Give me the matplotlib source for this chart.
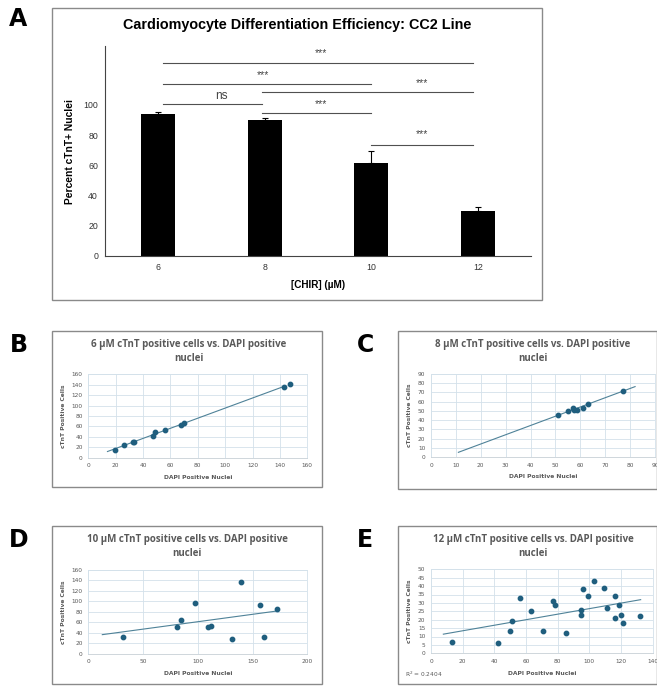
import numpy as np
import matplotlib
matplotlib.use("Agg")
import matplotlib.pyplot as plt
from matplotlib.patches import Rectangle

# ---- data: panel A (bar chart) ----
chir = ["6", "8", "10", "12"]
pct_ctnt = [94, 90, 61.5, 29.8]
pct_err = [1.0, 1.2, 8.3, 2.8]

# significance brackets: (start, end, line height, label, text x, text y)
sig_start = [0.04, 0.04, 0.97, 0.04, 0.97, 2.0]
sig_end = [2.96, 2.0, 2.96, 0.97, 2.0, 2.96]
sig_y = [128, 114, 108.4, 100.4, 94.7, 73.7]
sig_lab = ["***", "***", "***", "ns", "***", "***"]
sig_tx = [1.53, 0.98, 2.48, 0.59, 1.53, 2.48]
sig_ty = [134, 119.5, 114.2, 106.2, 100.7, 80.4]

# ---- data: panels B-E (scatter, DAPI vs cTnT) ----
dapi_6 = [19.5, 26, 32.5, 33.5, 47, 49, 56, 68, 70, 143, 147]
ctnt_6 = [15.5, 25, 30.5, 30.5, 41.5, 48.5, 52.5, 63, 66.5, 136, 141.5]

dapi_8 = [51, 55, 57, 57.5, 58.5, 61, 63, 77]
ctnt_8 = [46, 50, 53, 51, 51, 53, 58, 72]

dapi_10 = [32, 81, 85, 97, 109, 112, 131, 139, 157, 160, 172]
ctnt_10 = [31, 51, 64, 96, 51, 53, 29, 137, 93, 32, 85]

dapi_12 = [13, 42, 50, 51, 56, 63, 71, 77, 78, 85, 95, 95, 96, 99, 103,
           109, 111, 116, 116, 119, 120, 121, 132]
ctnt_12 = [7, 6, 13, 19, 33, 25, 13, 31, 29, 12, 26, 23, 38, 34, 43,
           39, 27, 34, 21, 29, 23, 18, 22]

W, H = 657, 686
fig = plt.figure(figsize=(W / 100, H / 100), dpi=100)


def px_axes(l, t, r, b):
    return fig.add_axes([l / W, 1 - b / H, (r - l) / W, (b - t) / H])


def box(l, t, r, b):
    fig.patches.append(Rectangle((l / W, 1 - b / H), (r - l) / W, (b - t) / H,
                                 transform=fig.transFigure, fill=False,
                                 edgecolor="#8a8a8a", linewidth=1.0))


def panel_letter(x, y, s):
    fig.text(x / W, 1 - y / H, s, fontsize=17, fontweight="bold",
             family="DejaVu Sans", ha="center", va="center")


# ---------------- panel A ----------------
box(52, 8, 542, 300)
panel_letter(18, 19, "A")
ax = px_axes(105, 46, 531, 256)
xs = np.arange(len(chir))
ax.bar(xs, pct_ctnt, width=0.32, color="black")
ax.errorbar(xs, pct_ctnt, yerr=[np.zeros(len(pct_err)), pct_err], fmt="none",
            ecolor="black", elinewidth=0.8, capsize=2, capthick=0.8)
ax.set_xlim(-0.5, 3.5)
ax.set_ylim(0, 139)
ax.set_yticks(range(0, 101, 20))
ax.set_xticks(xs)
ax.set_xticklabels(chir)
ax.tick_params(length=0, labelsize=6.3, colors="#333333", pad=5)
for lab in ax.get_xticklabels() + ax.get_yticklabels():
    lab.set_family("Liberation Sans")
ax.spines["top"].set_visible(False)
ax.spines["right"].set_visible(False)
ax.spines["left"].set_color("#444444")
ax.spines["bottom"].set_color("#444444")
for s0, s1, yy, lab, tx, ty in zip(sig_start, sig_end, sig_y, sig_lab, sig_tx, sig_ty):
    ax.plot([s0, s1], [yy, yy], color="#505050", lw=0.8, clip_on=False)
    ax.text(tx, ty, lab, ha="center", va="center", color="#444444",
            fontsize=8.5 if lab == "ns" else 7.5, family="Liberation Sans")
ax.set_ylabel("Percent cTnT+ Nuclei", fontsize=7.4, fontweight="bold",
              family="Liberation Sans", labelpad=6)
ax.set_xlabel("[CHIR] (µM)", fontsize=7.2, fontweight="bold",
              family="Liberation Sans", labelpad=6)
fig.text(297.5 / W, 1 - 25 / H,
         "Cardiomyocyte Differentiation Efficiency: CC2 Line",
         ha="center", va="center", fontsize=10.4, fontweight="bold",
         family="Liberation Sans")

# ---------------- panels B-E ----------------
grid_c = "#d3e1ea"
dot_c = "#1f5e7e"
line_c = "#4f8298"
txt_c = "#595959"


def scatter_panel(rect, frame, letter, lpos, title, tpos, xd, yd,
                  xlim, xstep, ylim, ystep, line_x):
    box(*frame)
    panel_letter(lpos[0], lpos[1], letter)
    fig.text(tpos[0] / W, 1 - tpos[1] / H, title, ha="center", va="center",
             fontsize=7, fontweight="bold", color=txt_c, family="Open Sans",
             linespacing=1.35)
    a = px_axes(*rect)
    a.scatter(xd, yd, s=10, color=dot_c, zorder=3, clip_on=False)
    k, c = np.polyfit(xd, yd, 1)
    lx = np.array(line_x)
    a.plot(lx, k * lx + c, color=line_c, lw=0.8, zorder=2)
    a.set_xlim(*xlim)
    a.set_ylim(*ylim)
    a.set_xticks(np.arange(xlim[0], xlim[1] + 0.1, xstep))
    a.set_yticks(np.arange(ylim[0], ylim[1] + 0.1, ystep))
    a.grid(True, color=grid_c, lw=0.6)
    a.set_axisbelow(True)
    for sp in a.spines.values():
        sp.set_color(grid_c)
        sp.set_linewidth(0.6)
    a.spines["bottom"].set_color("#c8d0d6")
    a.tick_params(length=0, labelsize=4.2, colors=txt_c, pad=4)
    a.set_xlabel("DAPI Positive Nuclei", fontsize=4.3, fontweight="bold",
                 color=txt_c, labelpad=5)
    a.set_ylabel("cTnT Positive Cells", fontsize=4.3, fontweight="bold",
                 color=txt_c, labelpad=4)
    return a


scatter_panel((88.3, 374.3, 307.3, 457.7), (52, 331, 322, 487), "B", (19, 345),
              "6 µM cTnT positive cells vs. DAPI positive\nnuclei", (188.7, 351.5),
              dapi_6, ctnt_6, (0, 160), 20, (0, 160), 20, [14, 143])
scatter_panel((431, 374, 655, 457), (398, 331, 657, 489), "C", (365, 345),
              "8 µM cTnT positive cells vs. DAPI positive\nnuclei", (533, 351.5),
              dapi_8, ctnt_8, (0, 90), 10, (0, 90), 10, [11, 82])
scatter_panel((88.3, 570, 307.3, 653.7), (52, 526, 322, 684), "D", (19, 540),
              "10 µM cTnT positive cells vs. DAPI positive\nnuclei", (187, 546.5),
              dapi_10, ctnt_10, (0, 200), 50, (0, 160), 20, [12.8, 172])
scatter_panel((431, 569.3, 652.7, 653.3), (398, 526, 657, 684), "E", (365, 540),
              "12 µM cTnT positive cells vs. DAPI positive\nnuclei", (533, 546.5),
              dapi_12, ctnt_12, (0, 140), 20, (0, 50), 5, [7.8, 132.4])
fig.text(405 / W, 1 - 674 / H, "R$^2$ = 0.2404", fontsize=4.2, color=txt_c,
         va="center", ha="left")

fig.savefig("out.png", dpi=100)
